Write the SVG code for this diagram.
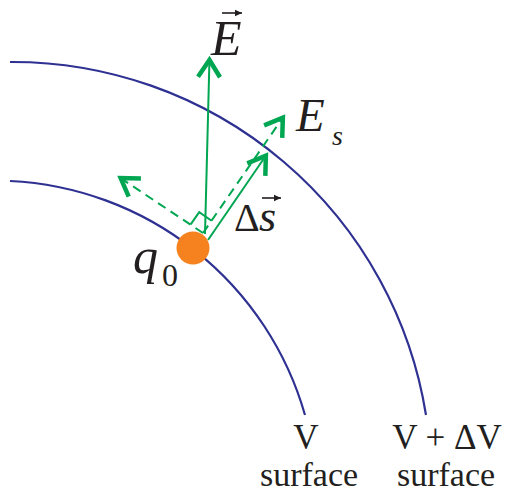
<svg xmlns="http://www.w3.org/2000/svg" width="506" height="494" viewBox="0 0 506 494">
<style>
.eq{fill:none;stroke:#2E3192;stroke-width:2.2}
.v{fill:none;stroke:#00A651;stroke-width:2}
.d{stroke-dasharray:9 6}
.t{font-family:"Liberation Serif","Times New Roman",serif;fill:#231F20}
.i{font-style:italic}
</style>
<defs>
<marker id="ah" markerUnits="userSpaceOnUse" markerWidth="30" markerHeight="30" viewBox="-22 -15 30 30" refX="2" refY="0" orient="auto" overflow="visible">
<path d="M-17,-11 L0,0 L-17,11" fill="none" stroke="#00A651" stroke-width="4.5"/>
</marker>
<marker id="sa" markerUnits="userSpaceOnUse" markerWidth="10" markerHeight="10" viewBox="-8 -5 10 10" refX="0" refY="0" orient="auto" overflow="visible">
<path d="M-7,-3.2 L0,0 L-7,3.2 Z" fill="#231F20"/>
</marker>
</defs>
<g id="surfaces">
<path id="v-surface" class="eq" d="M10,181 A323,323 0 0 1 305,415"/>
<path id="v-dv-surface" class="eq" d="M10,62 A419,419 0 0 1 426,415"/>
</g>
<g id="connectors">
<path id="e-vector" class="v" d="M205,234 L209.5,58" marker-end="url(#ah)"/>
<path id="ds-vector" class="v" d="M208,240 L267,154" marker-end="url(#ah)"/>
<path id="es-vector" class="v d" d="M203,233 L284,116" marker-end="url(#ah)"/>
<path id="perp-vector" class="v d" d="M203,233 L119,177" marker-end="url(#ah)"/>
<path id="right-angle" class="v" d="M190.7,224.4 L199.2,212.1 L211.6,220.7"/>
</g>
<g id="charge">
<circle cx="193" cy="248" r="16.5" fill="#F5821F"/>
</g>
<g id="labels">
<text class="t i" x="211" y="55" font-size="50">E</text>
<path d="M222,13 L242,13" stroke="#231F20" stroke-width="1.6" marker-end="url(#sa)"/>
<text class="t i" x="296" y="131" font-size="47">E</text>
<text class="t i" x="332" y="145" font-size="28">s</text>
<text class="t" x="234" y="231" font-size="40">Δ</text>
<text class="t i" x="259" y="231" font-size="44">s</text>
<path d="M262,198 L281,198" stroke="#231F20" stroke-width="1.6" marker-end="url(#sa)"/>
<text class="t i" x="133" y="273" font-size="50">q</text>
<text class="t" x="162" y="286" font-size="32">0</text>
<text class="t" x="306" y="449" font-size="35" text-anchor="middle">V</text>
<text class="t" x="309" y="486" font-size="34" text-anchor="middle">surface</text>
<text class="t" x="447" y="449" font-size="35" text-anchor="middle">V + ΔV</text>
<text class="t" x="446" y="486" font-size="34" text-anchor="middle">surface</text>
</g>
</svg>
